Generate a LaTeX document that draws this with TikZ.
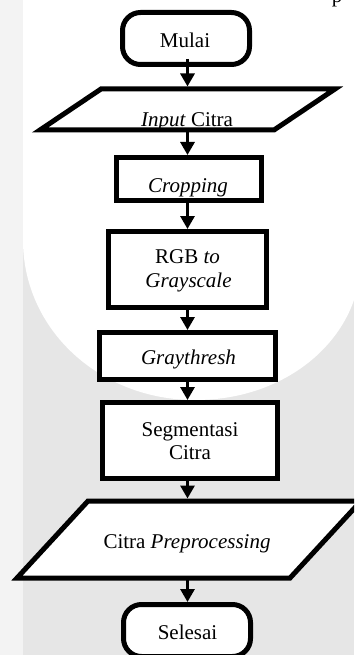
\documentclass[tikz,border=0pt]{standalone}
\usepackage{fontspec}
\setmainfont{Liberation Serif}
\usetikzlibrary{arrows.meta}
\definecolor{bggray}{HTML}{E6E6E6}
\definecolor{stripgray}{HTML}{F3F3F3}
\begin{document}
\begin{tikzpicture}[x=1pt,y=-1pt,
  box/.style={draw=black, line width=5pt, fill=white, inner sep=0pt},
  term/.style={box, rounded corners=18pt},
  para/.style={draw=black, line width=5pt, line join=miter},
  flow/.style={line width=3pt, -{Triangle[length=13pt,width=14pt]}},
  lbl/.style={inner sep=0pt, anchor=base, font=\fontsize{21}{24}\selectfont}]
\useasboundingbox (0,0) rectangle (354,655);
\clip (0,0) rectangle (354,655);
% background
\fill[bggray] (0,0) rectangle (354,655);
\fill[stripgray] (0,0) rectangle (23,655);
\fill[white] (23,0) -- (23,240) .. controls (23,330) and (100,400) .. (195,400)
  .. controls (275,400) and (335,355) .. (354,300) -- (354,0) -- cycle;
\coordinate (ax) at (187.5,0);
\node[lbl] (frag) at (337,3) {p};

% start
\node[term, minimum width=127pt, minimum height=52pt] (start) at (186,38.5) {};
\node[lbl] (tstart) at (185,48) {Mulai};

% input parallelogram
\fill[white] (101,89) -- (335,89) -- (274,130) -- (40,130) -- cycle;
\node[lbl] (tin) at (187,127) {\textit{Input} Citra};
\draw[para] (101,89) -- (335,89) -- (274,130) -- (40,130) -- cycle;
\coordinate (inN) at (187.5,86.5);
\coordinate (inS) at (187.5,130);

% cropping
\node[box, minimum width=145pt, minimum height=43pt] (crop) at (189,179) {};
\node[lbl] (tcrop) at (188,192) {\textit{Cropping}};

% rgb to grayscale
\node[box, minimum width=158pt, minimum height=76pt] (rgb) at (187.5,269.5) {};
\node[lbl] (trgbA) at (187.5,263) {RGB \textit{to}};
\node[lbl] (trgbB) at (188.5,287) {\textit{Grayscale}};

% graythresh
\node[box, minimum width=176pt, minimum height=47pt] (gray) at (187.5,356) {};
\node[lbl] (tgray) at (188.5,364) {\textit{Graythresh}};

% segmentasi
\node[box, minimum width=175pt, minimum height=76pt] (seg) at (190,440.5) {};
\node[lbl] (tsegA) at (190,436) {Segmentasi};
\node[lbl] (tsegB) at (190,459) {Citra};

% output parallelogram
\fill[white] (88,501) -- (361,501) -- (290,578) -- (17,578) -- cycle;
\node[lbl] (tout) at (187,548) {Citra \textit{Preprocessing}};
\draw[para] (88,501) -- (361,501) -- (290,578) -- (17,578) -- cycle;
\coordinate (outN) at (187.5,498.5);
\coordinate (outS) at (187.5,578);

% end
\node[term, minimum width=127pt, minimum height=52pt] (stop) at (187,630.5) {};
\node[lbl] (tstop) at (187.5,639) {Selesai};

% connectors
\coordinate (sb) at ([yshift=8pt]start.south);
\draw[flow] (sb -| ax) -- (inN);
\draw[flow] (inS) -- (crop.north -| ax);
\draw[flow] (crop.south -| ax) -- (rgb.north -| ax);
\draw[flow] (rgb.south -| ax) -- (gray.north -| ax);
\draw[flow] (gray.south -| ax) -- (seg.north -| ax);
\draw[flow] (seg.south -| ax) -- (outN);
\draw[flow] (outS) -- (stop.north -| ax);
\end{tikzpicture}
\end{document}
